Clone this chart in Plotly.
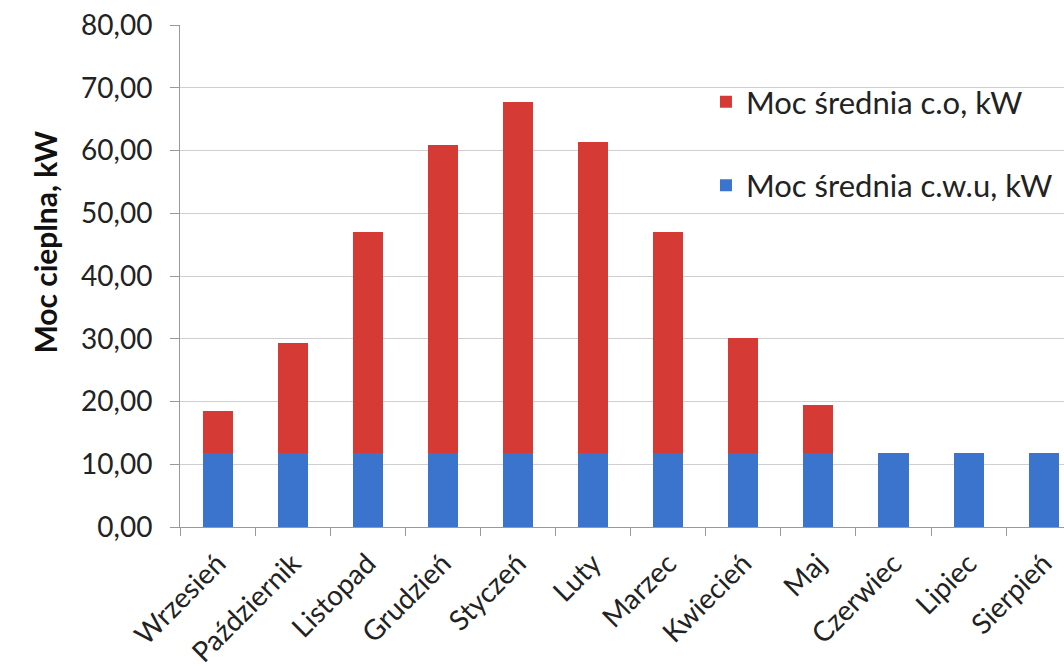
import plotly.graph_objects as go

months = ["Wrzesień", "Październik", "Listopad", "Grudzień", "Styczeń", "Luty",
          "Marzec", "Kwiecień", "Maj", "Czerwiec", "Lipiec", "Sierpień"]
cwu = [11.8, 11.8, 11.8, 11.8, 11.8, 11.8, 11.8, 11.8, 11.8, 11.8, 11.8, 11.8]
total = [18.5, 29.3, 47.0, 60.9, 67.7, 61.4, 47.0, 30.2, 19.4, 11.8, 11.8, 11.8]
co = [round(t - c, 2) for t, c in zip(total, cwu)]
yticks = [0, 10, 20, 30, 40, 50, 60, 70, 80]
ytick_text = ["0,00", "10,00", "20,00", "30,00", "40,00", "50,00", "60,00", "70,00", "80,00"]
y_title = "Moc cieplna, kW"

RED = "#D63A35"
BLUE = "#3A74CC"
FONT = "Lato"
TXT = "#222222"

fig = go.Figure()
fig.add_trace(go.Bar(x=months, y=cwu, name="Moc średnia c.w.u, kW",
                     marker=dict(color=BLUE, line=dict(width=0)),
                     legendgroup="b", legendrank=2))
fig.add_trace(go.Bar(x=months, y=co, name="Moc średnia c.o, kW",
                     marker=dict(color=RED, line=dict(width=0)),
                     legendgroup="a", legendrank=1))

fig.update_layout(
    width=1064, height=668,
    barmode="stack", bargap=0.6,
    paper_bgcolor="white", plot_bgcolor="white",
    margin=dict(l=180, r=0, t=25, b=141),
    font=dict(family=FONT, size=27, color=TXT),
    legend=dict(x=0.595, y=0.90, xanchor="left", yanchor="top",
                traceorder="grouped", tracegroupgap=40,
                font=dict(family=FONT, size=31, color=TXT),
                bgcolor="rgba(0,0,0,0)", itemwidth=30),
    xaxis=dict(range=[-0.5, 11.27], showgrid=False, ticks="outside",
               tickson="boundaries", ticklen=8, tickcolor="#999999",
               showline=True, linecolor="#999999", linewidth=1,
               tickangle=-45, ticklabelstandoff=8,
               tickfont=dict(family=FONT, size=28, color=TXT)),
    yaxis=dict(range=[0, 80], tickvals=yticks, ticktext=ytick_text,
               showgrid=True, gridcolor="#cfcfcf", gridwidth=1,
               ticks="outside", ticklen=9, tickcolor="#999999",
               showline=True, linecolor="#999999", linewidth=1,
               zeroline=False, ticklabelstandoff=12,
               tickfont=dict(family=FONT, size=28, color=TXT)),
    annotations=[dict(text="<b>" + y_title + "</b>", textangle=-90,
                      xref="paper", yref="paper", x=-0.153, y=0.568,
                      xanchor="center", yanchor="middle", showarrow=False,
                      font=dict(family=FONT, size=30, color="#111111"))],
)

fig.write_html("out.html")
